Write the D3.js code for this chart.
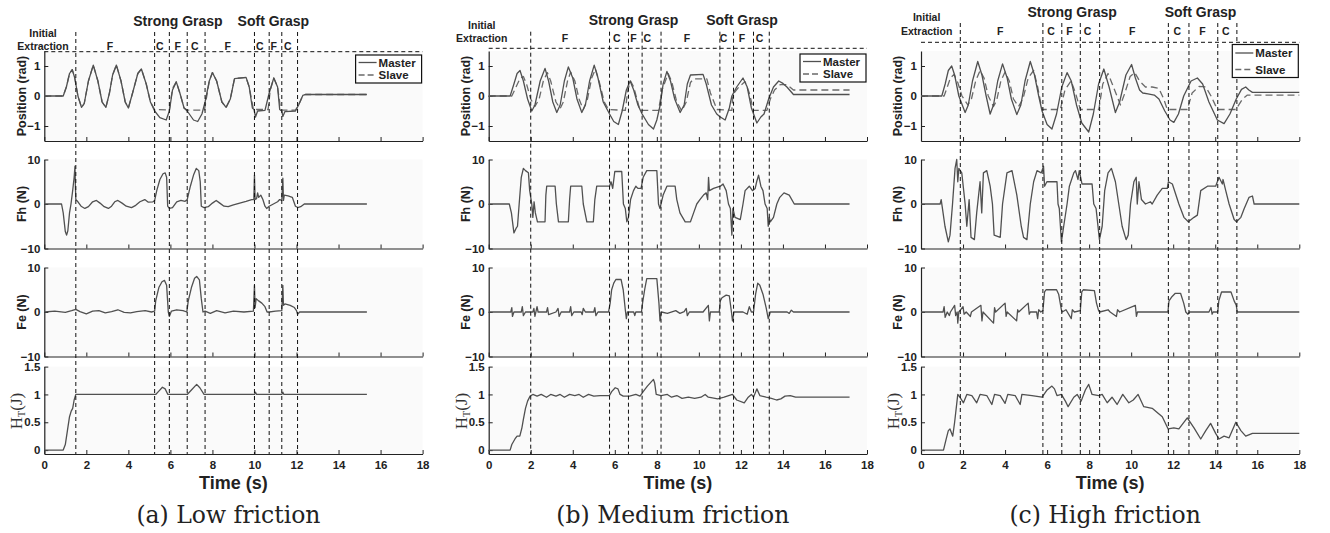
<!DOCTYPE html>
<html>
<head>
<meta charset="utf-8">
<script src="https://cdn.jsdelivr.net/npm/d3@7"></script>
<style>
body{margin:0;background:#fff}
text{font-family:"Liberation Sans",Arial,sans-serif}
</style>
</head>
<body>
<script>
// ---- tick labels / names
var timeTicks = [0,2,4,6,8,10,12,14,16,18];
var posTicks = [-1,0,1];
var forceTicks = [-10,0,10];
var htTicks = [0,0.5,1,1.5];
var captions = ["(a) Low friction","(b) Medium friction","(c) High friction"];
var legendNames = ["Master","Slave"];
var rowLabels = ["Position (rad)","Fh (N)","Fe (N)"];
var groupNames = ["Strong Grasp","Soft Grasp"];
var phaseNames = ["F","C","F","C","F","C","F","C"];

// ---- phase boundaries (s) and label positions (s)
var phaseLinesA = [1.5,5.25,5.95,6.8,7.65,10.0,10.7,11.3,12.05];
var phaseLinesB = [2.0,5.75,6.65,7.3,8.2,11.0,11.65,12.6,13.35];
var phaseLinesC = [1.87,5.8,6.7,7.58,8.5,11.77,12.75,14.12,15.03];
var phaseAtA = [3.12,5.5,6.35,7.16,8.73,10.25,10.91,11.58];
var phaseAtB = [3.63,6.1,6.89,7.55,9.43,11.17,12.05,12.89];
var phaseAtC = [3.77,6.19,7.06,7.93,10.05,12.2,13.39,14.5];
var groupAtA = [6.36,10.9];
var groupAtB = [6.89,12.05];
var groupAtC = [7.19,13.3];
var initAt = [-0.06,-0.33,0.27];

// ---- (a) low friction
var posMasterA = [[0,0],[0.9,0],[1.05,0.3],[1.2,0.75],[1.33,0.88],[1.45,0.6],[1.6,0],[1.77,-0.38],[1.9,-0.25],[2.1,0.5],[2.33,1.03],[2.55,0.5],[2.75,-0.2],[2.93,-0.38],[3.1,0.1],[3.25,0.7],[3.43,1.03],[3.65,0.5],[3.85,-0.2],[4.0,-0.4],[4.2,0.1],[4.45,0.75],[4.62,0.9],[4.85,0.4],[5.05,-0.2],[5.25,-0.5],[5.5,-0.72],[5.8,-0.8],[5.95,-0.5],[6.1,0.2],[6.28,0.47],[6.45,0.1],[6.65,-0.4],[6.8,-0.5],[7.1,-0.8],[7.3,-0.85],[7.5,-0.6],[7.65,-0.2],[7.85,0.5],[8.0,0.78],[8.2,0.5],[8.45,-0.2],[8.65,-0.38],[8.85,-0.1],[9.05,0.58],[9.6,0.62],[9.75,0.3],[9.9,-0.4],[9.98,-0.45],[10.05,-0.7],[10.15,-0.5],[10.5,-0.48],[10.7,0.1],[10.92,0.6],[11.1,0.3],[11.2,-0.45],[11.3,-0.5],[11.35,-0.68],[11.45,-0.52],[11.95,-0.5],[12.1,-0.3],[12.3,0.02],[12.42,0.05],[15.35,0.05]];
var posSlaveA = [[0,0],[0.9,0],[1.05,0.3],[1.2,0.75],[1.33,0.88],[1.45,0.6],[1.6,0],[1.77,-0.38],[1.9,-0.25],[2.1,0.5],[2.33,1.03],[2.55,0.5],[2.75,-0.2],[2.93,-0.38],[3.1,0.1],[3.25,0.7],[3.43,1.03],[3.65,0.5],[3.85,-0.2],[4.0,-0.4],[4.2,0.1],[4.45,0.75],[4.62,0.9],[4.85,0.4],[5.05,-0.2],[5.25,-0.45],[5.95,-0.47],[6.1,0.25],[6.28,0.47],[6.45,0.1],[6.65,-0.4],[6.8,-0.47],[7.62,-0.47],[7.85,0.5],[8.0,0.78],[8.2,0.5],[8.45,-0.2],[8.65,-0.38],[8.85,-0.1],[9.05,0.58],[9.6,0.62],[9.75,0.3],[9.95,-0.45],[10.65,-0.45],[10.75,0.2],[10.92,0.6],[11.1,0.3],[11.25,-0.47],[11.95,-0.47],[12.1,-0.3],[12.3,0.02],[12.42,0.05],[15.35,0.05]];
var fhA = [[0,0],[0.82,0],[0.9,-2],[1.0,-6.2],[1.06,-7],[1.12,-6],[1.2,-2],[1.27,0],[1.35,3],[1.42,6],[1.46,8.5],[1.48,4],[1.5,1],[1.6,0.5],[1.75,-0.5],[1.93,-1],[2.1,-0.6],[2.3,0.5],[2.48,0.8],[2.65,0.2],[2.85,-0.6],[3.05,-1],[3.2,-0.5],[3.35,0.5],[3.5,0.8],[3.7,0.2],[3.9,-0.5],[4.15,-0.8],[4.35,-0.3],[4.55,0.5],[4.78,1],[4.95,0.4],[5.17,0.5],[5.25,0.8],[5.35,3],[5.5,5.5],[5.65,6.8],[5.75,7],[5.82,6],[5.87,-0.5],[5.95,-1],[6.1,-0.8],[6.3,0.5],[6.5,0.8],[6.7,0.6],[6.8,1],[6.95,4],[7.1,6.5],[7.23,8],[7.35,7.5],[7.42,5],[7.47,-0.5],[7.6,-0.8],[7.8,-0.6],[8.0,0.2],[8.18,0.8],[8.35,0.2],[8.55,-0.5],[8.75,-0.6],[9.0,-0.2],[9.3,0.2],[9.6,0.6],[9.87,1],[9.97,1],[10.0,6.5],[10.03,1],[10.1,1.2],[10.15,2.5],[10.2,1.5],[10.3,2],[10.4,1],[10.5,-0.5],[10.58,-1],[10.7,-0.5],[10.9,0],[11.1,0.5],[11.2,1],[11.3,0.8],[11.35,5.8],[11.38,0.8],[11.42,2],[11.6,1.8],[11.8,1.5],[11.95,-0.5],[12.06,-0.8],[12.2,-0.6],[12.37,0],[15.35,0]];
var feA = [[0,0],[0.5,0.2],[1.0,-0.1],[1.3,0.3],[1.5,0.6],[1.7,0.1],[2.0,-0.4],[2.3,0.2],[2.6,0.3],[2.9,-0.2],[3.2,0.1],[3.5,0.5],[3.8,-0.1],[4.1,-0.2],[4.4,0.1],[4.8,0.3],[5.1,0],[5.25,0.2],[5.3,2.5],[5.45,5.5],[5.6,6.8],[5.72,7.1],[5.82,6],[5.9,0],[5.95,-1],[6.05,0.2],[6.3,0.5],[6.6,0.3],[6.78,0],[6.85,2.5],[7.0,5.5],[7.15,7.6],[7.25,8],[7.38,7.2],[7.47,3],[7.55,0],[7.65,0.2],[7.9,-0.3],[8.2,0.3],[8.6,-0.2],[9.0,0.2],[9.5,0],[9.95,0.2],[10.0,6],[10.03,1],[10.08,3],[10.2,2.5],[10.35,2],[10.5,1.2],[10.6,0],[10.7,0],[11.0,0.2],[11.3,0.3],[11.35,6],[11.38,1.5],[11.45,1.8],[11.7,1.5],[11.9,1],[12.0,0.3],[12.05,-0.5],[12.15,0],[15.35,0]];
var htA = [[0,0],[0.9,0],[1.0,0.1],[1.1,0.35],[1.2,0.6],[1.28,0.7],[1.35,0.75],[1.42,0.9],[1.5,1],[5.3,1],[5.45,1.06],[5.62,1.13],[5.75,1.1],[5.88,1.0],[6.8,1],[7.0,1.08],[7.25,1.18],[7.4,1.12],[7.6,1.0],[10.0,1],[10.05,1.04],[10.1,1],[11.3,1],[11.35,1.04],[11.4,1],[15.35,1]];

// ---- (b) medium friction
var posMasterB = [[0,0],[1.02,0],[1.2,0.4],[1.35,0.75],[1.49,0.85],[1.65,0.5],[1.85,-0.1],[2.05,-0.5],[2.2,-0.3],[2.45,0.5],[2.68,0.92],[2.85,0.5],[3.05,-0.2],[3.24,-0.55],[3.4,-0.3],[3.6,0.5],[3.79,0.97],[4.0,0.6],[4.2,-0.1],[4.43,-0.55],[4.6,-0.3],[4.8,0.5],[5.02,1.03],[5.2,0.6],[5.45,-0.2],[5.75,-0.6],[5.95,-0.85],[6.17,-0.95],[6.35,-0.5],[6.55,0.2],[6.73,0.5],[6.9,0.2],[7.1,-0.3],[7.3,-0.6],[7.6,-0.95],[7.84,-1.1],[8.0,-0.8],[8.16,-0.3],[8.3,0.4],[8.48,0.82],[8.65,0.5],[8.85,-0.1],[9.11,-0.55],[9.3,-0.3],[9.45,0.4],[9.6,0.7],[10.2,0.72],[10.35,0.4],[10.6,-0.3],[10.85,-0.6],[11.02,-0.7],[11.25,-0.8],[11.45,-0.4],[11.57,0],[11.8,0.3],[12.1,0.6],[12.3,0.3],[12.5,-0.4],[12.76,-0.9],[12.95,-0.7],[13.1,-0.6],[13.32,-0.1],[13.55,0.3],[13.8,0.5],[14.0,0.42],[14.19,0.3],[14.5,0.05],[17.17,0.05]];
var posSlaveB = [[0,0],[1.1,0],[1.3,0.3],[1.5,0.6],[1.65,0.65],[1.8,0.4],[2.0,-0.1],[2.2,-0.35],[2.4,-0.1],[2.6,0.5],[2.79,0.78],[2.95,0.5],[3.2,-0.2],[3.4,-0.42],[3.55,-0.2],[3.75,0.5],[3.9,0.8],[4.1,0.5],[4.3,-0.1],[4.5,-0.45],[4.7,-0.1],[4.9,0.6],[5.08,0.9],[5.25,0.5],[5.5,-0.2],[5.7,-0.45],[6.5,-0.48],[6.62,0.2],[6.75,0.5],[6.9,0.3],[7.2,-0.48],[8.08,-0.48],[8.25,0.2],[8.54,0.75],[8.7,0.5],[8.95,-0.2],[9.19,-0.5],[9.4,-0.2],[9.6,0.45],[9.75,0.57],[10.38,0.57],[10.55,0.1],[10.86,-0.45],[11.57,-0.48],[11.62,0.05],[11.9,0.3],[12.2,0.48],[12.4,0.1],[12.6,-0.48],[13.24,-0.48],[13.4,-0.1],[13.6,0.2],[13.87,0.38],[14.19,0.38],[14.5,0.2],[17.17,0.2]];
var fhB = [[0,0],[0.98,0],[1.08,-2],[1.2,-6.5],[1.3,-5.5],[1.37,-5],[1.45,0],[1.55,6],[1.65,8],[1.75,7.5],[1.89,7],[1.95,3],[2.05,0],[2.1,-3],[2.16,0.5],[2.22,-2],[2.32,-4],[2.68,-4],[2.72,2],[2.76,4],[3.16,4],[3.22,0],[3.32,-4],[3.79,-4],[3.85,1],[3.9,4],[4.43,4],[4.5,0],[4.67,-4],[4.98,-4],[5.05,1],[5.14,4],[5.75,4],[5.82,5],[5.9,3.5],[6.0,7.3],[6.33,7.3],[6.41,0],[6.5,-1],[6.57,-4],[6.65,-3],[6.75,1],[6.89,3],[7.0,4],[7.1,3.5],[7.25,3.5],[7.35,6],[7.52,7.5],[8.0,7.5],[8.08,0],[8.15,-1],[8.3,2],[8.48,4],[8.87,4],[8.95,1],[9.1,-2],[9.35,-4],[9.6,-4],[9.75,-2],[9.9,0],[10.05,1],[10.22,2],[10.35,2.5],[10.42,1],[10.46,6],[10.5,3],[10.7,3.5],[11.02,4],[11.15,4.5],[11.3,3],[11.41,0],[11.5,-1],[11.57,-7],[11.62,-1],[11.72,-3],[11.97,-3.5],[12.1,0],[12.2,3],[12.4,4],[12.55,3],[12.68,3.5],[12.75,5],[12.84,6.5],[12.95,4],[13.05,3],[13.15,0],[13.25,-1],[13.3,-5],[13.35,-3],[13.4,-4],[13.55,-3],[13.71,0],[13.85,1.5],[14.05,2.5],[14.3,2],[14.54,0],[17.17,0]];
var feB = [[0,0],[1.05,0],[1.1,1],[1.13,-1],[1.2,0],[1.55,0],[1.6,1.2],[1.65,-0.8],[1.75,0],[2.1,0],[2.15,0.8],[2.2,-1],[2.3,1.2],[2.35,0],[2.75,0],[2.8,1],[2.85,-0.6],[3.2,0],[3.3,0.8],[3.35,-1],[3.45,0],[3.85,0],[3.9,1.2],[3.95,-0.8],[4.05,0],[4.4,0],[4.45,-0.6],[4.5,0.8],[4.6,0],[5.0,0],[5.05,1],[5.1,-0.8],[5.2,0],[5.7,0],[5.78,2],[5.85,5],[5.95,6.5],[6.05,7.3],[6.3,7.3],[6.4,5],[6.5,0.5],[6.55,-1.5],[6.6,0],[6.9,0],[6.95,-0.8],[7.0,0],[7.27,0],[7.32,2],[7.42,5],[7.52,7.5],[8.0,7.5],[8.1,2],[8.15,-2],[8.22,0],[8.5,-0.3],[8.9,0.3],[9.1,-0.3],[9.3,0.1],[9.4,0.8],[9.45,-0.8],[9.55,0],[10.2,0],[10.45,1.5],[10.5,-2],[10.55,0],[10.97,0],[11.02,2.5],[11.1,3.2],[11.3,3.8],[11.45,3.6],[11.55,0],[11.6,-2],[11.67,0],[12.1,0],[12.3,-0.5],[12.4,1.2],[12.5,0],[12.6,0],[12.7,4],[12.8,6.5],[12.9,6],[13.05,4],[13.2,1],[13.3,-1.5],[13.4,0],[14.2,0],[14.3,-0.3],[14.4,0.4],[14.5,0],[17.17,0]];
var htB = [[0,0],[1.02,0],[1.1,0.1],[1.25,0.2],[1.35,0.25],[1.48,0.25],[1.58,0.4],[1.65,0.55],[1.75,0.75],[1.85,0.88],[1.97,0.97],[2.1,1.0],[2.3,0.97],[2.5,1.0],[2.75,0.95],[2.95,1.0],[3.2,0.97],[3.4,1.0],[3.6,0.95],[3.85,1.0],[4.1,0.98],[4.3,1.0],[4.5,0.95],[4.75,1.0],[5.0,0.97],[5.3,0.98],[5.75,0.98],[5.85,1.05],[6.02,1.12],[6.15,1.1],[6.25,1.0],[6.4,0.97],[6.7,0.97],[7.0,1.0],[7.2,0.97],[7.35,1.05],[7.55,1.15],[7.84,1.27],[7.9,1.2],[7.97,1.0],[8.2,0.98],[8.5,1.0],[8.7,0.95],[8.95,0.98],[9.2,0.93],[9.5,0.95],[9.8,0.93],[10.1,0.95],[10.3,1.0],[10.45,0.95],[10.9,0.92],[11.2,0.95],[11.6,1.0],[11.8,0.9],[12.16,0.85],[12.35,0.95],[12.5,1.0],[12.6,0.95],[12.76,1.1],[12.9,0.98],[13.2,0.95],[13.45,0.93],[13.7,0.9],[13.9,0.92],[14.1,0.97],[14.35,0.98],[14.6,0.95],[17.17,0.95]];

// ---- (c) high friction
var posMasterC = [[0,0],[0.99,0],[1.15,0.4],[1.3,0.85],[1.46,1.0],[1.6,0.7],[1.8,0.0],[2.1,-0.55],[2.25,-0.3],[2.45,0.5],[2.7,1.15],[2.9,0.7],[3.1,0],[3.29,-0.6],[3.45,-0.3],[3.65,0.5],[3.88,1.07],[4.1,0.6],[4.3,-0.1],[4.56,-0.62],[4.75,-0.3],[4.95,0.5],[5.2,1.15],[5.4,0.7],[5.6,0],[5.76,-0.5],[6.0,-0.95],[6.23,-1.1],[6.45,-0.6],[6.7,0.3],[6.95,0.78],[7.15,0.5],[7.4,-0.3],[7.65,-0.9],[7.98,-1.2],[8.2,-0.6],[8.45,0.4],[8.7,0.9],[8.95,0.3],[9.25,-0.55],[9.45,-0.2],[9.75,0.7],[10.02,1.05],[10.2,0.6],[10.4,0.2],[10.55,0.1],[10.8,0.07],[11.1,0.03],[11.32,-0.1],[11.6,-0.5],[11.85,-0.8],[12.03,-0.88],[12.25,-0.6],[12.5,0],[12.85,0.5],[13.15,0.6],[13.4,0.4],[13.7,-0.2],[14.1,-0.8],[14.42,-0.92],[14.7,-0.6],[15.0,-0.1],[15.25,0.22],[15.45,0.3],[15.6,0.2],[15.77,0.12],[18,0.12]];
var posSlaveC = [[0,0],[1.1,0],[1.25,0.3],[1.4,0.6],[1.57,0.72],[1.75,0.45],[1.95,0],[2.23,-0.3],[2.4,-0.1],[2.6,0.5],[2.81,0.85],[3.0,0.6],[3.2,0],[3.45,-0.35],[3.6,-0.15],[3.8,0.5],[4.0,0.8],[4.2,0.5],[4.4,-0.1],[4.64,-0.35],[4.85,-0.1],[5.1,0.6],[5.36,0.85],[5.55,0.3],[5.76,-0.45],[6.63,-0.45],[6.85,0.2],[7.14,0.5],[7.35,0.1],[7.58,-0.45],[8.46,-0.45],[8.65,0.4],[8.9,0.75],[9.1,0.4],[9.49,-0.3],[9.7,0.1],[9.95,0.65],[10.17,0.78],[10.4,0.5],[10.68,0.3],[11.0,0.3],[11.32,0.25],[11.55,-0.1],[11.72,-0.45],[12.67,-0.45],[12.9,0.1],[13.23,0.32],[13.55,0.3],[13.8,0],[14.1,-0.45],[14.98,-0.45],[15.3,-0.1],[15.53,0.03],[18,0.03]];
var fhC = [[0,0],[0.91,0],[0.96,1],[1.05,-2],[1.14,-5],[1.3,-8.5],[1.38,-7],[1.5,0],[1.62,8],[1.7,10],[1.75,5],[1.8,8],[1.94,7],[2.1,0],[2.18,-5],[2.29,1],[2.38,-7.5],[2.54,-8],[2.65,-2],[2.81,5],[2.89,-2],[2.97,7],[3.13,7.5],[3.29,4],[3.4,0],[3.48,-7],[3.77,-7.5],[3.88,0],[4.09,7],[4.33,7.5],[4.56,2],[4.77,-5],[4.88,-7.5],[5.04,-8],[5.2,0],[5.36,5],[5.52,7.5],[5.72,7],[5.83,8.5],[5.88,4],[5.99,5],[6.47,5],[6.52,0],[6.58,-1],[6.68,-8.5],[6.79,-5],[6.95,0],[7.06,4],[7.27,7],[7.35,7.5],[7.47,5.5],[7.53,7.5],[7.66,4.5],[8.14,4.5],[8.22,0],[8.33,-1],[8.49,-8],[8.62,-5],[8.74,3],[8.9,7],[9.06,8],[9.25,5],[9.41,0],[9.57,-5],[9.76,-8],[9.86,-7],[9.97,0],[10.13,5],[10.24,6],[10.29,0],[10.37,5],[10.49,1],[10.68,0],[10.92,0.5],[11.0,0],[11.24,2],[11.48,3.5],[11.72,3.5],[11.77,5],[11.96,4.5],[12.27,0],[12.51,-3],[12.72,-4],[12.99,-3],[13.15,-2.5],[13.31,3],[13.63,4],[14.02,4],[14.18,6],[14.34,4.5],[14.37,5.5],[14.5,3],[14.66,0],[14.9,-3.5],[15.01,-4],[15.22,-3],[15.38,-1],[15.61,1.5],[15.77,1.8],[15.85,0],[18,0]];
var feC = [[0,0],[1.05,0],[1.1,1.2],[1.15,-1.2],[1.25,0],[1.35,-0.8],[1.4,0],[1.6,1.5],[1.65,-0.8],[1.72,0],[1.75,-2.5],[1.8,0],[2.0,1.2],[2.05,-0.5],[2.15,0],[2.35,-1],[2.4,0],[2.85,1.5],[2.9,-2],[2.95,0],[3.45,-2.5],[3.5,1],[3.55,0],[4.0,2],[4.05,-1],[4.1,0],[4.55,-2],[4.6,0.5],[4.65,0],[5.1,2],[5.15,-0.5],[5.2,0],[5.5,0],[5.55,-1.5],[5.6,0.5],[5.7,0],[5.8,0.3],[5.88,4.5],[5.95,5],[6.45,5],[6.55,4],[6.68,0.5],[6.72,0],[6.9,0.5],[7.15,-1.5],[7.2,0.5],[7.3,0],[7.58,0.3],[7.65,4.5],[7.72,5],[8.25,4.8],[8.35,2],[8.45,0.3],[8.5,0],[8.9,0.5],[9.0,0],[9.3,-1],[9.35,0.5],[9.45,0],[10.2,1.5],[10.25,-1],[10.3,0],[11.75,0],[11.8,2.5],[11.95,3.5],[12.1,4.2],[12.35,4.2],[12.5,2],[12.6,0],[12.7,-0.5],[12.78,0],[13.7,0],[13.8,1],[13.85,-0.5],[13.9,0],[14.12,0],[14.17,2.5],[14.3,4.5],[14.75,4.5],[14.9,2.5],[15.0,1.5],[15.05,0],[18,0]];
var htC = [[0,0],[1.07,0],[1.2,0.2],[1.3,0.35],[1.38,0.38],[1.51,0.25],[1.6,0.5],[1.75,1.0],[1.85,0.95],[2.02,0.85],[2.18,1.0],[2.42,0.98],[2.65,0.85],[2.81,1.0],[3.13,0.98],[3.37,0.82],[3.5,1.0],[3.77,0.98],[4.0,0.84],[4.13,1.0],[4.48,0.98],[4.72,0.82],[4.8,1.0],[5.28,0.98],[5.76,0.95],[6.0,1.08],[6.23,1.15],[6.35,1.1],[6.47,0.98],[6.68,1.0],[6.87,0.88],[7.0,0.78],[7.27,0.95],[7.43,1.0],[7.62,0.88],[7.82,1.08],[7.98,1.18],[8.14,1.0],[8.46,0.98],[8.62,1.0],[8.86,0.85],[9.09,0.95],[9.33,0.82],[9.6,1.0],[9.89,0.85],[10.1,0.9],[10.33,1.0],[10.6,0.78],[11.0,0.75],[11.48,0.6],[11.76,0.38],[12.03,0.4],[12.27,0.38],[12.67,0.58],[12.99,0.4],[13.31,0.2],[13.55,0.35],[13.78,0.48],[14.02,0.3],[14.18,0.2],[14.42,0.25],[14.66,0.22],[14.98,0.5],[15.22,0.35],[15.45,0.25],[15.77,0.3],[18,0.3]];

var W = 1330, H = 533;
var svg = d3.select("body").append("svg")
	.attr("width", W)
	.attr("height", H)
	.style("background-color", "#fff");

// layout of the three panels (pixels)
var layout = [
	{x0:44.3, vTop:32, dashY:51.7, groupY:21, initY:33, extY:46, legTop:55, legH:28, legRow:[62.5,75]},
	{x0:488.7, vTop:31.7, dashY:48.3, groupY:20, initY:25, extY:38, legTop:54, legH:28, legRow:[61.5,74]},
	{x0:921, vTop:23, dashY:42.3, groupY:12, initY:17, extY:31, legTop:44.5, legH:33, legRow:[53,69.5]}
];
var series = [
	{master:posMasterA, slave:posSlaveA, fh:fhA, fe:feA, ht:htA, lines:phaseLinesA, phaseAt:phaseAtA, groupAt:groupAtA},
	{master:posMasterB, slave:posSlaveB, fh:fhB, fe:feB, ht:htB, lines:phaseLinesB, phaseAt:phaseAtB, groupAt:groupAtB},
	{master:posMasterC, slave:posSlaveC, fh:fhC, fe:feC, ht:htC, lines:phaseLinesC, phaseAt:phaseAtC, groupAt:groupAtC}
];
var rows = [
	{domain:[-1.5,1.5], range:[141,51], ticks:posTicks},
	{domain:[-10,10], range:[248.5,159.5], ticks:forceTicks},
	{domain:[-10,10], range:[356.5,267.5], ticks:forceTicks},
	{domain:[-0.07,1.5], range:[454,366.6], ticks:htTicks}
];
var plotW = 378.3;
var ink = "#505050";

function fmt(v)
{
	return d3.format("")(v).replace("-", "\u2212");
}

for (var p = 0; p < 3; p++)
{
	var L = layout[p], S = series[p];
	var x = d3.scaleLinear().domain([0,18]).range([L.x0, L.x0 + plotW]);
	var g = svg.append("g");

	var ys = rows.map(function(r){ return d3.scaleLinear().domain(r.domain).range(r.range); });

	// background + axes
	rows.forEach(function(r, i)
	{
		g.append("rect")
			.attr("x", L.x0).attr("y", r.range[1])
			.attr("width", plotW).attr("height", r.range[0] - r.range[1])
			.attr("fill", "#fafafa");

		var xa = g.append("g")
			.attr("transform", "translate(0," + r.range[0] + ")")
			.call(d3.axisBottom(x).tickValues(timeTicks).tickSizeInner(-4).tickSizeOuter(0).tickPadding(7)
				.tickFormat(i == 3 ? d3.format("d") : ""));
		var ya = g.append("g")
			.attr("transform", "translate(" + L.x0 + ",0)")
			.call(d3.axisLeft(ys[i]).tickValues(r.ticks).tickSizeInner(-4).tickSizeOuter(0).tickPadding(4).tickFormat(fmt));
		[xa, ya].forEach(function(a)
		{
			a.select(".domain").attr("stroke", "#222").attr("stroke-width", 1.2);
			a.selectAll(".tick line").attr("stroke", "#222");
			a.selectAll("text").attr("fill", "#222").style("font-size", "11.5px").style("font-weight", "bold")
				.style("font-family", "'Liberation Sans', Arial, sans-serif");
		});
	});

	// curves
	function draw(data, i, dash, colour)
	{
		var line = d3.line().x(function(d){ return x(d[0]); }).y(function(d){ return ys[i](d[1]); });
		g.append("path").datum(data)
			.attr("d", line)
			.attr("fill", "none")
			.attr("stroke", colour)
			.attr("stroke-width", 1.3)
			.attr("stroke-linejoin", "round")
			.attr("stroke-dasharray", dash);
	}
	draw(S.slave, 0, "7,4", "#6a6a6a");
	draw(S.master, 0, null, ink);
	draw(S.fh, 1, null, ink);
	draw(S.fe, 2, null, ink);
	draw(S.ht, 3, null, ink);

	// phase boundary lines
	g.selectAll(".vline").data(S.lines).enter().append("line")
		.attr("x1", function(d){ return x(d); })
		.attr("x2", function(d){ return x(d); })
		.attr("y1", L.vTop)
		.attr("y2", 454)
		.attr("stroke", "#111")
		.attr("stroke-width", 1)
		.attr("stroke-dasharray", "4,3");
	g.append("line")
		.attr("x1", L.x0).attr("x2", L.x0 + plotW)
		.attr("y1", L.dashY).attr("y2", L.dashY)
		.attr("stroke", "#111").attr("stroke-width", 1).attr("stroke-dasharray", "4,3");

	// header texts
	g.selectAll(".phase").data(phaseNames).enter().append("text")
		.attr("x", function(d, k){ return x(S.phaseAt[k]); })
		.attr("y", L.extY).attr("dy", "0.35em")
		.attr("text-anchor", "middle")
		.style("font-size", "10.5px").style("font-weight", "bold").attr("fill", "#222")
		.text(function(d){ return d; });
	g.selectAll(".group").data(groupNames).enter().append("text")
		.attr("x", function(d, k){ return x(S.groupAt[k]); })
		.attr("y", L.groupY).attr("dy", "0.35em")
		.attr("text-anchor", "middle")
		.style("font-size", "14px").style("font-weight", "bold").attr("fill", "#222")
		.text(function(d){ return d; });
	[["Initial", L.initY], ["Extraction", L.extY]].forEach(function(t)
	{
		g.append("text")
			.attr("x", x(initAt[p])).attr("y", t[1]).attr("dy", "0.35em")
			.attr("text-anchor", "middle")
			.style("font-size", "10.5px").style("font-weight", "bold").attr("fill", "#222")
			.text(t[0]);
	});

	// legend
	var lx = L.x0 + plotW - 67, lw = 66;
	g.append("rect")
		.attr("x", lx).attr("y", L.legTop).attr("width", lw).attr("height", L.legH)
		.attr("fill", "#fff").attr("stroke", "#111").attr("stroke-width", 1.2);
	legendNames.forEach(function(n, k)
	{
		g.append("line")
			.attr("x1", lx + 3).attr("x2", lx + 21)
			.attr("y1", L.legRow[k]).attr("y2", L.legRow[k])
			.attr("stroke", k ? "#6a6a6a" : ink).attr("stroke-width", 1.3)
			.attr("stroke-dasharray", k ? "6,3" : null);
		g.append("text")
			.attr("x", lx + 23).attr("y", L.legRow[k]).attr("dy", "0.35em")
			.style("font-size", "11.5px").style("font-weight", "bold").attr("fill", "#222")
			.text(n);
	});

	// y labels
	rowLabels.forEach(function(n, i)
	{
		var cy = (rows[i].range[0] + rows[i].range[1]) / 2;
		g.append("text")
			.attr("transform", "translate(" + (L.x0 - 23) + "," + cy + ") rotate(-90)")
			.attr("text-anchor", "middle").attr("dy", "0.35em")
			.style("font-size", "12.5px").style("font-weight", "bold").attr("fill", "#222")
			.text(n);
	});
	var ht = g.append("text")
		.attr("transform", "translate(" + (L.x0 - 28) + ",411) rotate(-90)")
		.attr("text-anchor", "middle").attr("dy", "0.35em")
		.style("font-family", "'Liberation Serif', serif").style("font-size", "17px").attr("fill", "#333");
	ht.append("tspan").text("H");
	ht.append("tspan").attr("dy", "3").style("font-size", "10px").text("T");
	ht.append("tspan").attr("dy", "-3").text("(J)");

	// x label + caption
	g.append("text")
		.attr("x", L.x0 + plotW / 2).attr("y", 483).attr("dy", "0.35em")
		.attr("text-anchor", "middle")
		.style("font-size", "18px").style("font-weight", "bold").attr("fill", "#222")
		.text("Time (s)");
	g.append("text")
		.attr("x", L.x0 + plotW / 2 - 5).attr("y", 515).attr("dy", "0.35em")
		.attr("text-anchor", "middle")
		.style("font-family", "'DejaVu Serif', serif").style("font-size", "23.5px").attr("fill", "#222")
		.text(captions[p]);
}
</script>
</body>
</html>
